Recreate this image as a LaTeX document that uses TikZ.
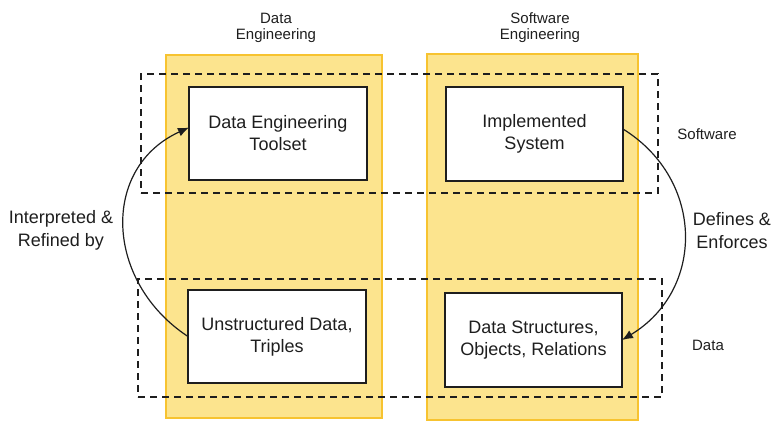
\documentclass[tikz,border=0pt]{standalone}
\usepackage{fontspec}
\setmainfont{Liberation Sans}
\usetikzlibrary{arrows.meta}
\definecolor{laneFill}{RGB}{252,228,142}
\definecolor{laneEdge}{RGB}{247,195,48}
\definecolor{ink}{RGB}{30,30,30}
\begin{document}
\begin{tikzpicture}[x=1pt,y=-1pt,
  lane/.style={draw=laneEdge,fill=laneFill,line width=2pt,inner sep=0pt,outer sep=0pt},
  layer/.style={draw=ink,dash pattern=on 7pt off 5pt,line width=2pt,inner sep=0pt,outer sep=0pt},
  card/.style={draw=ink,fill=white,line width=2pt,inner sep=0pt,outer sep=0pt,
    align=center,text=ink,font=\fontsize{18}{22}\selectfont},
  sidelabel/.style={align=center,text=ink,font=\fontsize{18}{23}\selectfont},
  smalllabel/.style={align=center,text=ink,font=\fontsize{15}{16}\selectfont},
  flow/.style={draw=ink,line width=1.2pt,-{Latex[length=11pt,width=9pt]}}
]
\useasboundingbox (0,0) rectangle (774,424);

% engineering lanes
\node[lane,minimum width=216pt,minimum height=363pt] (laneDE) at (274,236.5) {};
\node[lane,minimum width=211pt,minimum height=366pt] (laneSE) at (532.5,237) {};

% software / data layers
\node[layer,minimum width=517pt,minimum height=119pt] (swLayer) at (399.5,133.5) {};
\node[layer,minimum width=524pt,minimum height=118pt] (dataLayer) at (400,338) {};

% artefact boxes
\node[card,minimum width=178pt,minimum height=93pt] (toolset) at (278,133.5) {Data Engineering\\Toolset};
\node[card,minimum width=177pt,minimum height=94pt] (impl) at (534.5,134) {Implemented\\System};
\node[card,minimum width=178pt,minimum height=93pt] (unstr) at (277,336.5) {Unstructured Data,\\Triples};
\node[card,minimum width=177pt,minimum height=94pt] (dstruct) at (533.5,340) {Data Structures,\\Objects, Relations};

% headings and layer names
\node[smalllabel] (hDE) at (276,27.5) {Data\\Engineering};
\node[smalllabel] (hSE) at (540,27.5) {Software\\Engineering};
\node[smalllabel] (lSW) at (707,134) {Software};
\node[smalllabel] (lData) at (708,345) {Data};

% relation labels
\node[sidelabel] (rLeft) at (61,230) {Interpreted \&\\Refined by};
\node[sidelabel] (rRight) at (732,231) {Defines \&\\Enforces};

% relations
\draw[flow] (unstr.west) .. controls (105,282) and (100,168) .. ([yshift=6pt]toolset.west);
\draw[flow] ([yshift=5pt]impl.east) .. controls (705,180) and (705,290) .. (dstruct.east);
\end{tikzpicture}
\end{document}
